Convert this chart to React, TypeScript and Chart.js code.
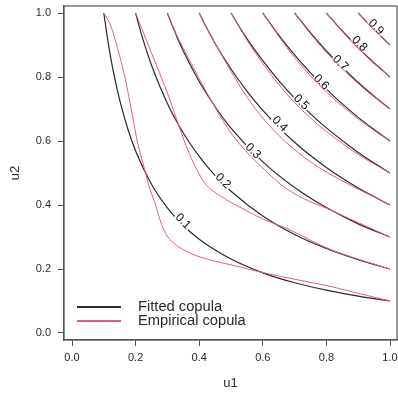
import React, { useEffect, useRef } from "react";
import { Chart, registerables } from "chart.js";

Chart.register(...registerables);

// ---- data ----
const levels = ["0.1", "0.2", "0.3", "0.4", "0.5", "0.6", "0.7", "0.8", "0.9"];

// fitted copula contour lines  [u1, u2]
const fit01 = [[0.1, 1.0], [0.11, 0.931], [0.12, 0.87], [0.13, 0.817], [0.15, 0.728], [0.175, 0.639], [0.2, 0.569], [0.25, 0.465], [0.3, 0.391], [0.35, 0.336], [0.4, 0.293], [0.5, 0.231], [0.6, 0.188], [0.7, 0.157], [0.8, 0.134], [0.9, 0.115], [1.0, 0.1]];
const fit02 = [[0.2, 1.0], [0.21, 0.963], [0.22, 0.928], [0.25, 0.837], [0.3, 0.717], [0.35, 0.625], [0.4, 0.552], [0.45, 0.492], [0.5, 0.443], [0.6, 0.366], [0.7, 0.308], [0.8, 0.264], [0.9, 0.229], [1.0, 0.2]];
const fit03 = [[0.3, 1.0], [0.31, 0.974], [0.33, 0.926], [0.35, 0.881], [0.4, 0.786], [0.45, 0.707], [0.5, 0.64], [0.6, 0.535], [0.7, 0.455], [0.8, 0.392], [0.9, 0.341], [1.0, 0.3]];
const fit04 = [[0.4, 1.0], [0.42, 0.96], [0.45, 0.905], [0.5, 0.825], [0.55, 0.756], [0.6, 0.696], [0.7, 0.596], [0.8, 0.517], [0.9, 0.453], [1.0, 0.4]];
const fit05 = [[0.5, 1.0], [0.55, 0.92], [0.6, 0.851], [0.65, 0.789], [0.7, 0.734], [0.75, 0.685], [0.8, 0.641], [0.9, 0.564], [0.95, 0.531], [1.0, 0.5]];
const fit06 = [[0.6, 1.0], [0.65, 0.931], [0.7, 0.869], [0.75, 0.813], [0.8, 0.762], [0.85, 0.716], [0.9, 0.674], [0.95, 0.636], [1.0, 0.6]];
const fit07 = [[0.7, 1.0], [0.75, 0.938], [0.8, 0.882], [0.85, 0.831], [0.9, 0.783], [0.95, 0.74], [1.0, 0.7]];
const fit08 = [[0.8, 1.0], [0.85, 0.944], [0.9, 0.892], [0.95, 0.844], [1.0, 0.8]];
const fit09 = [[0.9, 1.0], [0.925, 0.974], [0.95, 0.948], [0.975, 0.924], [1.0, 0.9]];

// empirical copula contour lines  [u1, u2]
const emp01 = [[0.1, 1.0], [0.122, 0.96], [0.143, 0.89], [0.164, 0.81], [0.19, 0.68], [0.205, 0.6], [0.226, 0.52], [0.245, 0.45], [0.263, 0.4], [0.278, 0.35], [0.295, 0.31], [0.321, 0.28], [0.373, 0.249], [0.436, 0.228], [0.5, 0.213], [0.612, 0.186], [0.7, 0.168], [0.811, 0.146], [0.9, 0.124], [1.0, 0.1]];
const emp02 = [[0.2, 1.0], [0.22, 0.95], [0.25, 0.875], [0.3, 0.75], [0.33, 0.665], [0.36, 0.582], [0.39, 0.515], [0.418, 0.468], [0.47, 0.426], [0.534, 0.39], [0.607, 0.353], [0.673, 0.328], [0.75, 0.29], [0.811, 0.262], [0.9, 0.231], [1.0, 0.2]];
const emp03 = [[0.3, 1.0], [0.33, 0.93], [0.35, 0.89], [0.4, 0.795], [0.45, 0.705], [0.5, 0.625], [0.55, 0.565], [0.6, 0.515], [0.673, 0.452], [0.75, 0.41], [0.8, 0.39], [0.9, 0.345], [1.0, 0.3]];
const emp04 = [[0.4, 1.0], [0.45, 0.905], [0.5, 0.818], [0.55, 0.738], [0.6, 0.672], [0.673, 0.596], [0.75, 0.535], [0.8, 0.503], [0.883, 0.458], [0.95, 0.425], [1.0, 0.4]];
const emp05 = [[0.5, 1.0], [0.55, 0.916], [0.6, 0.842], [0.65, 0.777], [0.7, 0.72], [0.75, 0.672], [0.8, 0.63], [0.9, 0.558], [0.95, 0.528], [1.0, 0.5]];
const emp06 = [[0.6, 1.0], [0.65, 0.927], [0.7, 0.861], [0.75, 0.804], [0.8, 0.753], [0.85, 0.709], [0.9, 0.669], [0.95, 0.633], [1.0, 0.6]];
const emp07 = [[0.7, 1.0], [0.75, 0.935], [0.8, 0.877], [0.85, 0.826], [0.9, 0.779], [0.95, 0.738], [1.0, 0.7]];
const emp08 = [[0.8, 1.0], [0.85, 0.942], [0.9, 0.889], [0.95, 0.842], [1.0, 0.8]];
const emp09 = [[0.9, 1.0], [0.925, 0.973], [0.95, 0.947], [0.975, 0.923], [1.0, 0.9]];

// where the contour labels sit on the diagonal u1 = u2
const labelAt = [0.35, 0.476, 0.57, 0.654, 0.722, 0.785, 0.845, 0.905, 0.957];

const xTicks = [0, 0.2, 0.4, 0.6, 0.8, 1.0];
const yTicks = [0, 0.2, 0.4, 0.6, 0.8, 1.0];
const xTitle = "u1";
const yTitle = "u2";
const legendLabels = ["Fitted copula", "Empirical copula"];

const fittedCurves = [fit01, fit02, fit03, fit04, fit05, fit06, fit07, fit08, fit09];
const empiricalCurves = [emp01, emp02, emp03, emp04, emp05, emp06, emp07, emp08, emp09];

const FONT = '"Liberation Sans", Arial, Helvetica, sans-serif';
const BLACK = "#2a2a2a";
const RED = "#E0607A";
const AXIS = "#555555";
const TEXT = "#2a2a2a";

const decorPlugin = {
  id: "decor",
  beforeDatasetDraw(chart: any, args: any) {
    // draw contour labels after all fitted (black) lines, before the first red line
    if (args.index !== empiricalCurves.length - 1) return;
    const { ctx, scales } = chart;
    const x = scales.x;
    const y = scales.y;
    ctx.save();
    ctx.font = `12px ${FONT}`;
    ctx.textAlign = "center";
    ctx.textBaseline = "middle";
    levels.forEach((lab, i) => {
      const px = x.getPixelForValue(labelAt[i]);
      const py = y.getPixelForValue(labelAt[i]);
      ctx.save();
      ctx.translate(px, py);
      ctx.rotate(Math.PI / 4);
      const w = ctx.measureText(lab).width;
      ctx.fillStyle = "#ffffff";
      ctx.fillRect(-w / 2 - 1, -4, w + 2, 8);
      ctx.fillStyle = "#111111";
      ctx.fillText(lab, 0, 0.5);
      ctx.restore();
    });
    ctx.restore();
  },
  afterDraw(chart: any) {
    const { ctx, chartArea } = chart;
    ctx.save();
    // full box
    ctx.strokeStyle = AXIS;
    ctx.lineWidth = 1.2;
    ctx.strokeRect(chartArea.left, chartArea.top, chartArea.right - chartArea.left, chartArea.bottom - chartArea.top);

    // axis titles
    ctx.fillStyle = TEXT;
    ctx.font = `13px ${FONT}`;
    ctx.textAlign = "center";
    ctx.textBaseline = "middle";
    ctx.fillText(xTitle, (chartArea.left + chartArea.right) / 2, 383);
    ctx.save();
    ctx.translate(15, (chartArea.top + chartArea.bottom) / 2);
    ctx.rotate(-Math.PI / 2);
    ctx.fillText(yTitle, 0, 0);
    ctx.restore();

    // legend
    const rows = [
      { color: BLACK, y: 307 },
      { color: RED, y: 321 },
    ];
    ctx.font = `14.7px ${FONT}`;
    ctx.textAlign = "left";
    rows.forEach((r, i) => {
      ctx.strokeStyle = r.color;
      ctx.lineWidth = 2;
      ctx.beginPath();
      ctx.moveTo(77, r.y);
      ctx.lineTo(121, r.y);
      ctx.stroke();
      ctx.fillStyle = TEXT;
      ctx.fillText(legendLabels[i], 138, r.y);
    });
    ctx.restore();
  },
};

export default function App() {
  const canvasRef = useRef<HTMLCanvasElement | null>(null);

  useEffect(() => {
    if (!canvasRef.current) return;
    Chart.defaults.font.family = FONT;

    const toPts = (arr: number[][]) => arr.map(([u, v]) => ({ x: u, y: v }));
    const lineStyle = {
      showLine: true,
      pointRadius: 0,
      pointHoverRadius: 0,
      fill: false,
      cubicInterpolationMode: "monotone" as const,
    };

    // empirical first (drawn last = on top), fitted afterwards (drawn first)
    const datasets: any[] = [
      ...empiricalCurves.map((c, i) => ({
        label: `Empirical ${levels[i]}`,
        data: toPts(c),
        borderColor: RED,
        borderWidth: 1,
        ...lineStyle,
      })),
      ...fittedCurves.map((c, i) => ({
        label: `Fitted ${levels[i]}`,
        data: toPts(c),
        borderColor: BLACK,
        borderWidth: 1.2,
        ...lineStyle,
      })),
    ];

    const chart = new Chart(canvasRef.current, {
      type: "scatter",
      data: { datasets },
      plugins: [decorPlugin],
      options: {
        responsive: false,
        animation: false,
        devicePixelRatio: 1,
        events: [],
        layout: { padding: { top: 6, right: 1, left: 0, bottom: 0 } },
        plugins: {
          legend: { display: false },
          tooltip: { enabled: false },
        },
        scales: {
          x: {
            type: "linear",
            min: -0.0252,
            max: 1.022,
            afterBuildTicks(s: any) {
              s.ticks = xTicks.map((v) => ({ value: v }));
            },
            afterFit(s: any) {
              s.height = 54;
              s.paddingLeft = 0;
              s.paddingRight = 0;
            },
            ticks: {
              callback: (v: any) => Number(v).toFixed(1),
              font: { size: 11, family: FONT },
              color: TEXT,
              padding: 5,
              maxRotation: 0,
              autoSkip: false,
            },
            grid: { drawOnChartArea: false, drawTicks: true, tickLength: 6, color: AXIS, lineWidth: 1 },
            border: { display: true, color: AXIS, width: 1.2 },
          },
          y: {
            type: "linear",
            min: -0.0219,
            max: 1.022,
            afterBuildTicks(s: any) {
              s.ticks = yTicks.map((v) => ({ value: v }));
            },
            afterFit(s: any) {
              s.width = 64;
              s.paddingTop = 0;
              s.paddingBottom = 0;
            },
            ticks: {
              callback: (v: any) => Number(v).toFixed(1),
              font: { size: 11, family: FONT },
              color: TEXT,
              padding: 7,
              autoSkip: false,
            },
            grid: { drawOnChartArea: false, drawTicks: true, tickLength: 6, color: AXIS, lineWidth: 1 },
            border: { display: true, color: AXIS, width: 1.2 },
          },
        },
      } as any,
    });

    return () => chart.destroy();
  }, []);

  return (
    <div style={{ position: "absolute", left: 0, top: 0, width: 398, height: 394, background: "#fff" }}>
      <canvas ref={canvasRef} width={398} height={394} style={{ display: "block", width: 398, height: 394 }} />
    </div>
  );
}
